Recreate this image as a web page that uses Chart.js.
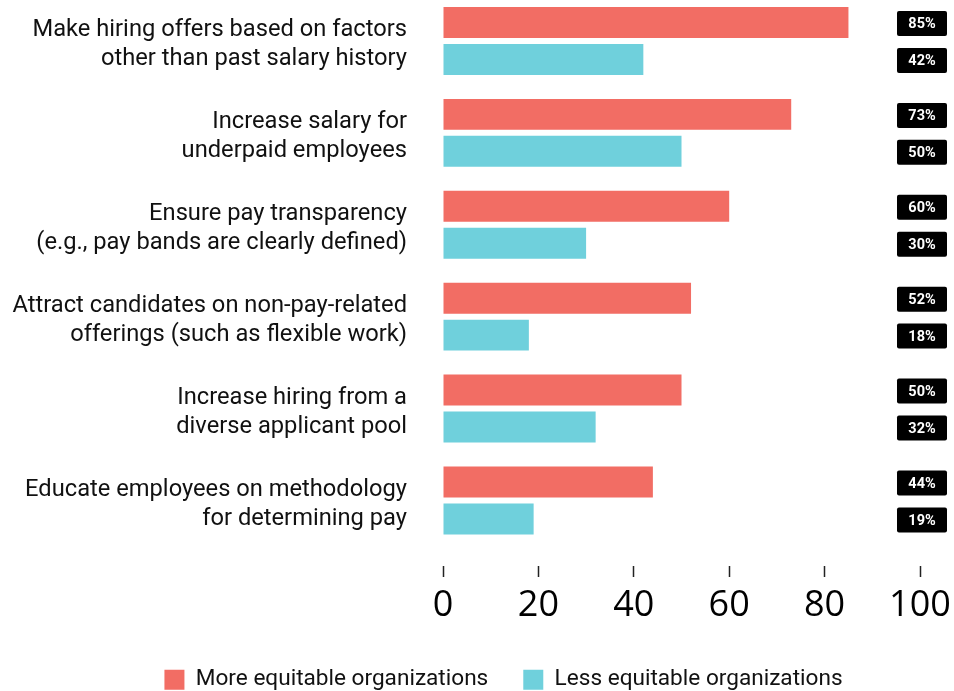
<!DOCTYPE html>
<html>
<head>
<meta charset="utf-8">
<script src="https://cdn.jsdelivr.net/npm/chart.js@4/dist/chart.umd.min.js"></script>
<style>
  html, body { margin: 0; padding: 0; background: #fff; overflow: hidden; }
  body { width: 954px; height: 691px; position: relative; }
  #wrap { position: absolute; left: 0; top: -10px; width: 954px; height: 711px; }
</style>
</head>
<body>
<div id="wrap"><canvas id="payChart"></canvas></div>
<script>
// Dades del gràfic
const categories = [
    ['Make hiring offers based on factors', 'other than past salary history'],
    ['Increase salary for', 'underpaid employees'],
    ['Ensure pay transparency', '(e.g., pay bands are clearly defined)'],
    ['Attract candidates on non-pay-related', 'offerings (such as flexible work)'],
    ['Increase hiring from a', 'diverse applicant pool'],
    ['Educate employees on methodology', 'for determining pay']
];
const moreEquitable = [85, 73, 60, 52, 50, 44];
const lessEquitable = [42, 50, 30, 18, 32, 19];
const xTicks = [0, 20, 40, 60, 80, 100];

// Etiquetes negres amb el percentatge, a la columna de 100
const valueBoxes = {
    id: 'valueBoxes',
    afterDatasetsDraw(chart) {
        const ctx = chart.ctx;
        const x = chart.scales.x.getPixelForValue(100) + 2;
        ctx.save();
        ctx.font = 'bold 14.5px Roboto';
        ctx.textAlign = 'center';
        ctx.textBaseline = 'middle';
        chart.data.datasets.forEach((ds, i) => {
            chart.getDatasetMeta(i).data.forEach((bar, j) => {
                const w = 50, h = 25;
                const y = bar.y + 1;
                ctx.fillStyle = '#000';
                ctx.beginPath();
                ctx.roundRect(x - w / 2, y - h / 2, w, h, 2);
                ctx.fill();
                ctx.fillStyle = '#fff';
                ctx.fillText(ds.data[j] + '%', x, y + 1);
            });
        });
        ctx.restore();
    }
};

// La llegenda va una mica desplaçada cap a la dreta
const legendShift = {
    id: 'legendShift',
    afterLayout(chart) {
        chart.legend.left += 43.5;
        chart.legend.right += 43.5;
    }
};

const ctx = document.getElementById('payChart').getContext('2d');
new Chart(ctx, {
    type: 'bar',
    data: {
        labels: categories,
        datasets: [
            {
                label: 'More equitable organizations',
                data: moreEquitable,
                backgroundColor: '#F26D64',
                categoryPercentage: 0.804,
                barPercentage: 0.838
            },
            {
                label: 'Less equitable organizations',
                data: lessEquitable,
                backgroundColor: '#6FD0DC',
                categoryPercentage: 0.804,
                barPercentage: 0.838
            }
        ]
    },
    options: {
        indexAxis: 'y',
        responsive: true,
        maintainAspectRatio: false,
        animation: false,
        layout: { padding: { top: 5, left: 0, right: 34, bottom: 0 } },
        scales: {
            x: {
                min: 0,
                max: 100,
                afterBuildTicks(scale) {
                    scale.ticks = xTicks.map(v => ({ value: v }));
                },
                afterFit(scale) {
                    scale.height = 87;
                    scale.paddingLeft = 0;
                    scale.paddingRight = 0;
                },
                border: { display: false },
                grid: {
                    drawOnChartArea: false,
                    tickLength: 31,
                    tickColor: '#222',
                    tickWidth: 1.5,
                    tickBorderDash: [0, 20, 11, 100]
                },
                ticks: {
                    padding: 7,
                    color: '#000',
                    font: { family: 'Open Sans', size: 36 }
                }
            },
            y: {
                afterFit(scale) {
                    scale.width = 443;
                    scale.paddingTop = 0;
                    scale.paddingBottom = 0;
                },
                border: { display: false },
                grid: { display: false, drawTicks: false },
                ticks: {
                    padding: 36,
                    labelOffset: 4,
                    color: '#111',
                    font: { family: 'Roboto', size: 23.7, lineHeight: 1.22 }
                }
            }
        },
        plugins: {
            legend: {
                position: 'bottom',
                labels: {
                    boxWidth: 20,
                    boxHeight: 20,
                    padding: 35,
                    color: '#111',
                    font: { family: 'Roboto', size: 22.6 }
                }
            },
            tooltip: { enabled: false }
        }
    },
    plugins: [valueBoxes, legendShift]
});
</script>
</body>
</html>
